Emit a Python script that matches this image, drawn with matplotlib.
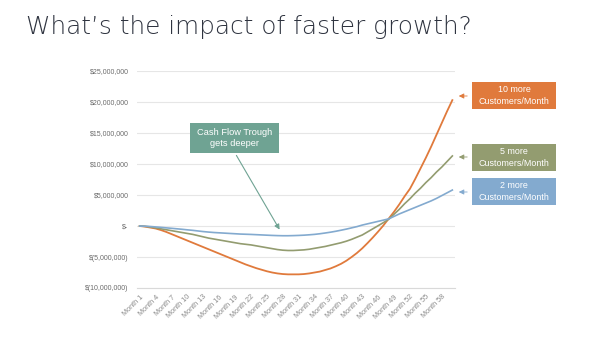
import matplotlib
matplotlib.use("Agg")
import matplotlib.pyplot as plt
from matplotlib.patches import Rectangle
from matplotlib.ticker import FuncFormatter, FixedLocator

months = list(range(1, 61))
tick_months = list(range(1, 59, 3))
tick_labels = [f"Month {m}" for m in tick_months]

# values in $ millions
orange_10 = [0, -0.1, -0.25, -0.4, -0.65, -0.95, -1.3, -1.65, -2.0, -2.35,
             -2.7, -3.05, -3.4, -3.75, -4.1, -4.45, -4.8, -5.15, -5.5, -5.85,
             -6.2, -6.5, -6.8, -7.05, -7.3, -7.5, -7.65, -7.75, -7.8, -7.8,
             -7.8, -7.75, -7.65, -7.5, -7.35, -7.1, -6.85, -6.5, -6.1, -5.6,
             -5.0, -4.35, -3.6, -2.75, -1.85, -0.9, 0.1, 1.2, 2.3, 3.5,
             4.8, 6.0, 7.6, 9.3, 11.0, 12.8, 14.7, 16.6, 18.5, 20.3]
green_5 = [0, -0.05, -0.15, -0.3, -0.45, -0.6, -0.75, -0.9, -1.05, -1.2,
           -1.35, -1.55, -1.75, -1.95, -2.1, -2.25, -2.4, -2.55, -2.7, -2.85,
           -2.95, -3.05, -3.2, -3.35, -3.5, -3.65, -3.8, -3.9, -3.95, -3.95,
           -3.9, -3.85, -3.75, -3.6, -3.45, -3.3, -3.1, -2.9, -2.7, -2.45,
           -2.15, -1.8, -1.45, -0.95, -0.45, 0.05, 0.55, 1.1, 1.9, 2.7,
           3.6, 4.4, 5.3, 6.1, 7.0, 7.8, 8.7, 9.5, 10.4, 11.3]
blue_2 = [0, -0.03, -0.08, -0.15, -0.22, -0.3, -0.37, -0.45, -0.53, -0.62,
          -0.7, -0.8, -0.9, -0.98, -1.05, -1.1, -1.15, -1.2, -1.25, -1.3,
          -1.33, -1.36, -1.4, -1.44, -1.48, -1.52, -1.55, -1.57, -1.57, -1.55,
          -1.52, -1.48, -1.42, -1.35, -1.25, -1.13, -1.0, -0.85, -0.68, -0.5,
          -0.3, -0.1, 0.15, 0.35, 0.55, 0.75, 0.95, 1.15, 1.55, 1.95,
          2.3, 2.65, 3.0, 3.35, 3.7, 4.05, 4.45, 4.9, 5.35, 5.8]
y_ticks = [-10, -5, 0, 5, 10, 15, 20, 25]

C_OR = "#E07A3C"
C_GR = "#939C70"
C_BL = "#83AACF"
C_TEAL = "#6FA393"
LABEL_FONT = ["Liberation Sans", "DejaVu Sans"]

W, H = 600, 337
fig = plt.figure(figsize=(6, 3.37), dpi=100)
fig.patch.set_facecolor("white")

def fx(px):
    return px / W

def fy(py):
    return 1 - py / H

ax = fig.add_axes([fx(137), fy(288), fx(455) - fx(137), fy(71) - fy(288)])
ax.set_xlim(0.5, 60.5)
ax.set_ylim(-10, 25)

ax.plot(months, orange_10, color=C_OR, lw=1.3, zorder=3)
ax.plot(months, green_5, color=C_GR, lw=1.2, zorder=3)
ax.plot(months, blue_2, color=C_BL, lw=1.2, zorder=3)

for s in ["top", "right", "left"]:
    ax.spines[s].set_visible(False)
ax.spines["bottom"].set_color("#d9d9d9")
ax.spines["bottom"].set_linewidth(0.8)

ax.yaxis.set_major_locator(FixedLocator(y_ticks))

def yfmt(v, pos):
    if v == 0:
        return "$-"
    if v < 0:
        return "$({:,.0f})".format(-v * 1e6)
    return "${:,.0f}".format(v * 1e6)

ax.yaxis.set_major_formatter(FuncFormatter(yfmt))
ax.grid(axis="y", color="#e6e6e6", lw=0.8, zorder=0)
ax.tick_params(axis="y", length=0, pad=6, labelsize=5, labelcolor="#6b6b6b")
ax.set_xticks(tick_months)
ax.set_xticklabels(tick_labels, rotation=45, ha="right", rotation_mode="anchor")
ax.tick_params(axis="x", length=0, pad=4, labelsize=5.2, labelcolor="#8a8a8a")
for lab in ax.get_xticklabels() + ax.get_yticklabels():
    lab.set_family(LABEL_FONT)

# Title
fig.text(fx(26), fy(27), "What\u2019s the impact of faster growth?",
         fontsize=17.8, family=["DejaVu Sans"], weight="light",
         color="#2f3440", ha="left", va="center")

# Callout boxes on the right
boxes = [
    (82, 109, "10 more\nCustomers/Month", C_OR, 96),
    (144, 171, "5 more\nCustomers/Month", C_GR, 157),
    (178, 205, "2 more\nCustomers/Month", C_BL, 192),
]
for top, bot, txt, col, ay in boxes:
    fig.patches.append(Rectangle((fx(472), fy(bot)), fx(556) - fx(472), fy(top) - fy(bot),
                                 transform=fig.transFigure, facecolor=col,
                                 edgecolor="none", zorder=5))
    fig.text(fx(514), fy((top + bot) / 2), txt, color="white", fontsize=6.4,
             family=LABEL_FONT, ha="center", va="center", linespacing=1.3, zorder=6)
    ax.annotate("", xy=(fx(456), fy(ay)), xycoords=fig.transFigure,
                xytext=(fx(470), fy(ay)), textcoords=fig.transFigure,
                arrowprops=dict(arrowstyle="-|>,head_length=0.3,head_width=0.15",
                                color=col, lw=0.6), annotation_clip=False)

# Cash flow trough callout
fig.patches.append(Rectangle((fx(190), fy(153)), fx(279) - fx(190), fy(123) - fy(153),
                             transform=fig.transFigure, facecolor=C_TEAL,
                             edgecolor="none", zorder=5))
fig.text(fx(234.5), fy(138), "Cash Flow Trough\ngets deeper", color="white",
         fontsize=6.7, family=LABEL_FONT, ha="center", va="center",
         linespacing=1.25, zorder=6)
ax.annotate("", xy=(fx(281), fy(232)), xycoords=fig.transFigure,
            xytext=(fx(235), fy(153)), textcoords=fig.transFigure,
            arrowprops=dict(arrowstyle="-|>,head_length=0.3,head_width=0.15",
                            color=C_TEAL, lw=0.8), annotation_clip=False)

fig.savefig("out.png", dpi=100, facecolor="white")
